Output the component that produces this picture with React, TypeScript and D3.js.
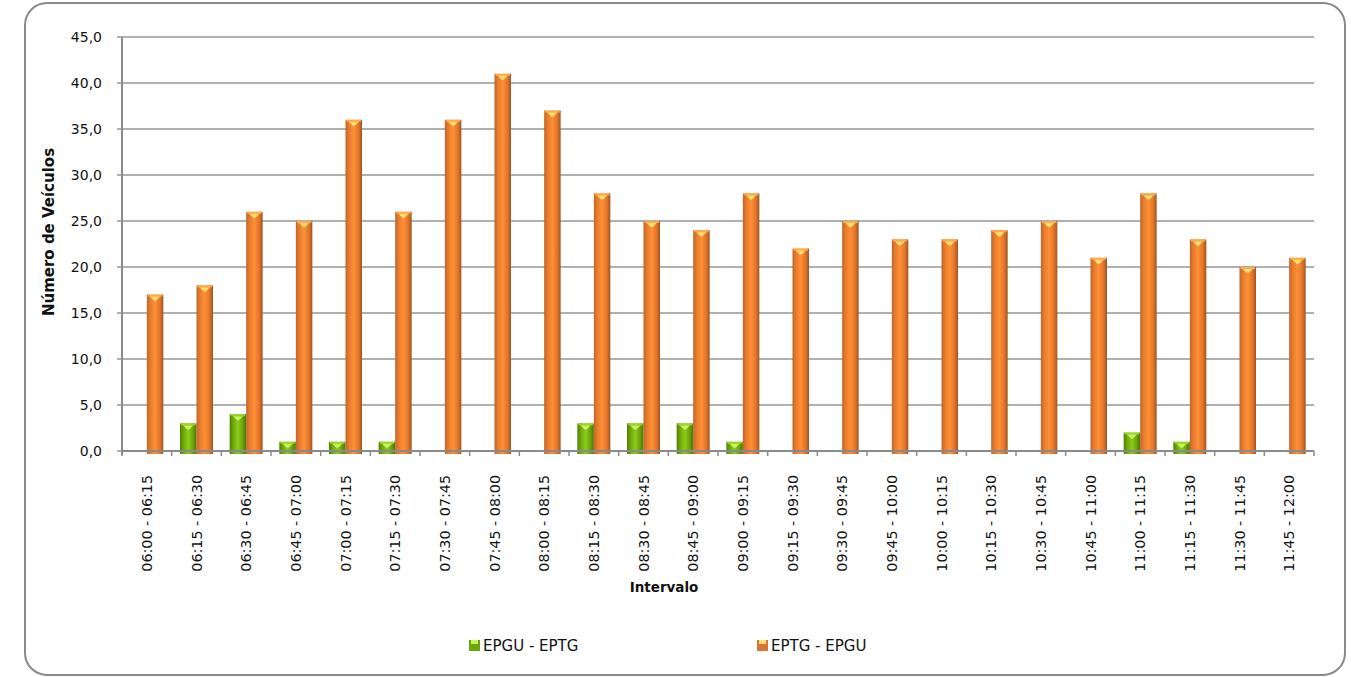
import { useEffect, useRef } from "react";
import * as d3 from "d3";

const intervals = [
  "06:00 - 06:15", "06:15 - 06:30", "06:30 - 06:45", "06:45 - 07:00",
  "07:00 - 07:15", "07:15 - 07:30", "07:30 - 07:45", "07:45 - 08:00",
  "08:00 - 08:15", "08:15 - 08:30", "08:30 - 08:45", "08:45 - 09:00",
  "09:00 - 09:15", "09:15 - 09:30", "09:30 - 09:45", "09:45 - 10:00",
  "10:00 - 10:15", "10:15 - 10:30", "10:30 - 10:45", "10:45 - 11:00",
  "11:00 - 11:15", "11:15 - 11:30", "11:30 - 11:45", "11:45 - 12:00"
];
const epguEptg = [0, 3, 4, 1, 1, 1, 0, 0, 0, 3, 3, 3, 1, 0, 0, 0, 0, 0, 0, 0, 2, 1, 0, 0];
const eptgEpgu = [17, 18, 26, 25, 36, 26, 36, 41, 37, 28, 25, 24, 28, 22, 25, 23, 23, 24, 25, 21, 28, 23, 20, 21];
const seriesNames = ["EPGU - EPTG", "EPTG - EPGU"];
const yTicks = [0, 5, 10, 15, 20, 25, 30, 35, 40, 45];

const W = 1351;
const H = 677;
const FONT = "'DejaVu Sans', sans-serif";

export default function App() {
  const svgRef = useRef<SVGSVGElement>(null);

  useEffect(() => {
    document.body.style.margin = "0";
    const svg = d3.select(svgRef.current!);
    svg.selectAll("*").remove();

    const left = 122, right = 1314, top = 37, bottom = 451;

    const x = d3.scaleBand<string>().domain(intervals).range([left, right]).padding(0);
    const y = d3.scaleLinear().domain([0, 45]).range([bottom, top]);
    const barW = 16.5;
    const inner = d3.scaleBand<number>().domain([0, 1]).range([0, barW * 2]).padding(0);

    // gradientes dos "cilindros"
    const defs = svg.append("defs");
    const grads = [
      { id: "gGreen", stops: [["0", "#4f7d00"], ["0.2", "#6ea60a"], ["0.5", "#8ccc1c"], ["0.8", "#6aa008"], ["1", "#4a7400"]] },
      { id: "gOrange", stops: [["0", "#b8682f"], ["0.2", "#e87a2c"], ["0.5", "#ff9036"], ["0.8", "#e0742a"], ["1", "#9c5522"]] }
    ];
    grads.forEach((g) => {
      const lg = defs.append("linearGradient").attr("id", g.id).attr("x1", "0").attr("x2", "1").attr("y1", "0").attr("y2", "0");
      g.stops.forEach(([o, c]) => lg.append("stop").attr("offset", o).attr("stop-color", c));
    });
    const capColors = ["#c6f25a", "#ffe070"];
    const rimColors = ["#9bd330", "#ffab4a"];
    const legendColors = ["#6ea60a", "#d87434"];

    // moldura
    svg.append("rect")
      .attr("x", 25).attr("y", 3).attr("width", 1320).attr("height", 672)
      .attr("rx", 22).attr("ry", 22)
      .attr("fill", "#fff").attr("stroke", "#8a8a8a").attr("stroke-width", 2);

    // grelha
    svg.append("g").selectAll("line").data(yTicks).join("line")
      .attr("x1", left - 5).attr("x2", right)
      .attr("y1", (d) => y(d)).attr("y2", (d) => y(d))
      .attr("stroke", "#969696").attr("stroke-width", 1.6);

    svg.append("g").selectAll("text").data(yTicks).join("text")
      .attr("x", 102).attr("y", (d) => y(d)).attr("dy", "0.36em")
      .attr("text-anchor", "end").attr("font-family", FONT).attr("font-size", 14)
      .attr("fill", "#111")
      .text((d) => d.toFixed(1).replace(".", ","));

    svg.append("line").attr("x1", left).attr("x2", left).attr("y1", top).attr("y2", bottom + 4)
      .attr("stroke", "#8a8a8a").attr("stroke-width", 2);

    // barras
    const series = [epguEptg, eptgEpgu];
    const gBars = svg.append("g");
    series.forEach((vals, si) => {
      const groupOff = (x.bandwidth() - barW * 2) / 2;
      const bx = (i: number) => x(intervals[i])! + groupOff + inner(si)!;
      const sel = gBars.selectAll(`g.s${si}`).data(vals.map((v, i) => ({ v, i })).filter((d) => d.v > 0))
        .join("g").attr("class", `s${si}`);
      sel.append("rect")
        .attr("x", (d) => bx(d.i))
        .attr("y", (d) => y(d.v))
        .attr("width", barW)
        .attr("height", (d) => y(0) - y(d.v) + 3)
        .attr("fill", `url(#${grads[si].id})`);
      sel.append("rect")
        .attr("x", (d) => bx(d.i) + 1)
        .attr("y", (d) => y(d.v))
        .attr("width", barW - 2)
        .attr("height", 2)
        .attr("fill", rimColors[si]);
      sel.append("path")
        .attr("d", (d) => {
          const cx = bx(d.i) + barW / 2;
          const ty = y(d.v) + 2;
          return `M${cx - 5},${ty} L${cx + 5},${ty} L${cx + 1},${ty + 4} L${cx - 1},${ty + 4} Z`;
        })
        .attr("fill", capColors[si]);
    });

    // eixo x
    svg.append("line").attr("x1", left).attr("x2", right).attr("y1", bottom).attr("y2", bottom)
      .attr("stroke", "#8a8a8a").attr("stroke-width", 2);
    const boundaries = intervals.map((c) => x(c)!).concat([right]);
    svg.append("g").selectAll("line").data(boundaries).join("line")
      .attr("x1", (d) => d).attr("x2", (d) => d).attr("y1", bottom).attr("y2", bottom + 5)
      .attr("stroke", "#8a8a8a").attr("stroke-width", 1.5);

    svg.append("g").selectAll("text").data(intervals).join("text")
      .attr("transform", (d) => `translate(${x(d)! + x.bandwidth() / 2 + 5},475) rotate(-90)`)
      .attr("text-anchor", "end").attr("font-family", FONT).attr("font-size", 14.3)
      .attr("fill", "#111")
      .text((d) => d);

    // títulos
    svg.append("text")
      .attr("transform", "translate(54,232) rotate(-90)")
      .attr("text-anchor", "middle").attr("font-family", FONT).attr("font-size", 15)
      .attr("font-weight", "bold").attr("fill", "#111")
      .text("Número de Veículos");
    svg.append("text")
      .attr("x", 664).attr("y", 592)
      .attr("text-anchor", "middle").attr("font-family", FONT).attr("font-size", 13.5)
      .attr("font-weight", "bold").attr("fill", "#111")
      .text("Intervalo");

    // legenda
    const legendX = [469, 757];
    const lg = svg.append("g").selectAll("g").data(seriesNames).join("g")
      .attr("transform", (_d, i) => `translate(${legendX[i]},640)`);
    lg.append("rect").attr("width", 11).attr("height", 11).attr("fill", (_d, i) => legendColors[i]);
    lg.append("rect").attr("x", 2).attr("width", 7).attr("height", 4).attr("fill", (_d, i) => capColors[i]);
    lg.append("text").attr("x", 14).attr("y", 11)
      .attr("font-family", FONT).attr("font-size", 15).attr("fill", "#111")
      .text((d) => d);
  }, []);

  return <svg ref={svgRef} width={W} height={H} style={{ display: "block" }} />;
}
